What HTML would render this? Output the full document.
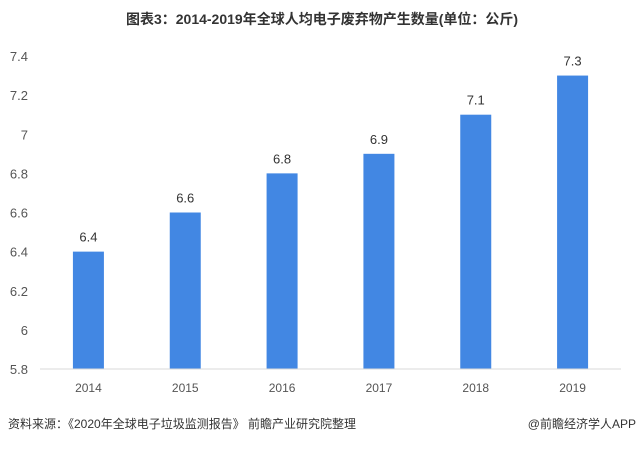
<!DOCTYPE html>
<html><head><meta charset="utf-8"><style>
body{margin:0;background:#fff;}
svg text{font-family:"Liberation Sans","Noto Sans CJK SC",sans-serif;}
</style></head><body>
<svg width="644" height="445">
<text x="322" y="24" text-anchor="middle" font-size="14" font-weight="bold" fill="#333">图表3：2014-2019年全球人均电子废弃物产生数量(单位：公斤)</text>
<g id="yaxis"></g>
<g id="bars"></g>
<line x1="40" y1="369" x2="621" y2="369" stroke="#d9d9d9" stroke-width="1"/>
<text x="8" y="428" font-size="12" fill="#333">资料来源：《2020年全球电子垃圾监测报告》 前瞻产业研究院整理</text>
<text x="636" y="428" text-anchor="end" font-size="12" fill="#333">@前瞻经济学人APP</text>
</svg>
<script>
const categories=["2014","2015","2016","2017","2018","2019"];
const values=[6.4,6.6,6.8,6.9,7.1,7.3];
const yTicks=["5.8","6","6.2","6.4","6.6","6.8","7","7.2","7.4"];
const NS="http://www.w3.org/2000/svg";
const x0=40,x1=621,yMin=5.8,yMax=7.4,yTop=56,yBot=369;
const y=v=>yBot-(v-yMin)/(yMax-yMin)*(yBot-yTop);
const bw=(x1-x0)/categories.length;
const ya=document.getElementById('yaxis'),bg=document.getElementById('bars');
yTicks.forEach(t=>{const e=document.createElementNS(NS,'text');
e.setAttribute('x',28);e.setAttribute('y',y(+t)+5);e.setAttribute('text-anchor','end');
e.setAttribute('font-size','13');e.setAttribute('fill','#555');e.textContent=t;


ya.appendChild(e);});
categories.forEach((c,i)=>{const cx=x0+bw*(i+0.5);const v=values[i];
const r=document.createElementNS(NS,'rect');
r.setAttribute('x',cx-15.5);r.setAttribute('width',31);r.setAttribute('y',y(v));r.setAttribute('height',yBot-y(v));r.setAttribute('fill','#4287e3');


bg.appendChild(r);
const l=document.createElementNS(NS,'text');
l.setAttribute('x',cx);l.setAttribute('y',y(v)-10);l.setAttribute('text-anchor','middle');l.setAttribute('font-size','13');l.setAttribute('fill','#333');l.textContent=v;


bg.appendChild(l);
const xl=document.createElementNS(NS,'text');
xl.setAttribute('x',cx);xl.setAttribute('y',392);xl.setAttribute('text-anchor','middle');xl.setAttribute('font-size','12');xl.setAttribute('fill','#555');xl.textContent=c;


bg.appendChild(xl);});
</script>
</body></html>
